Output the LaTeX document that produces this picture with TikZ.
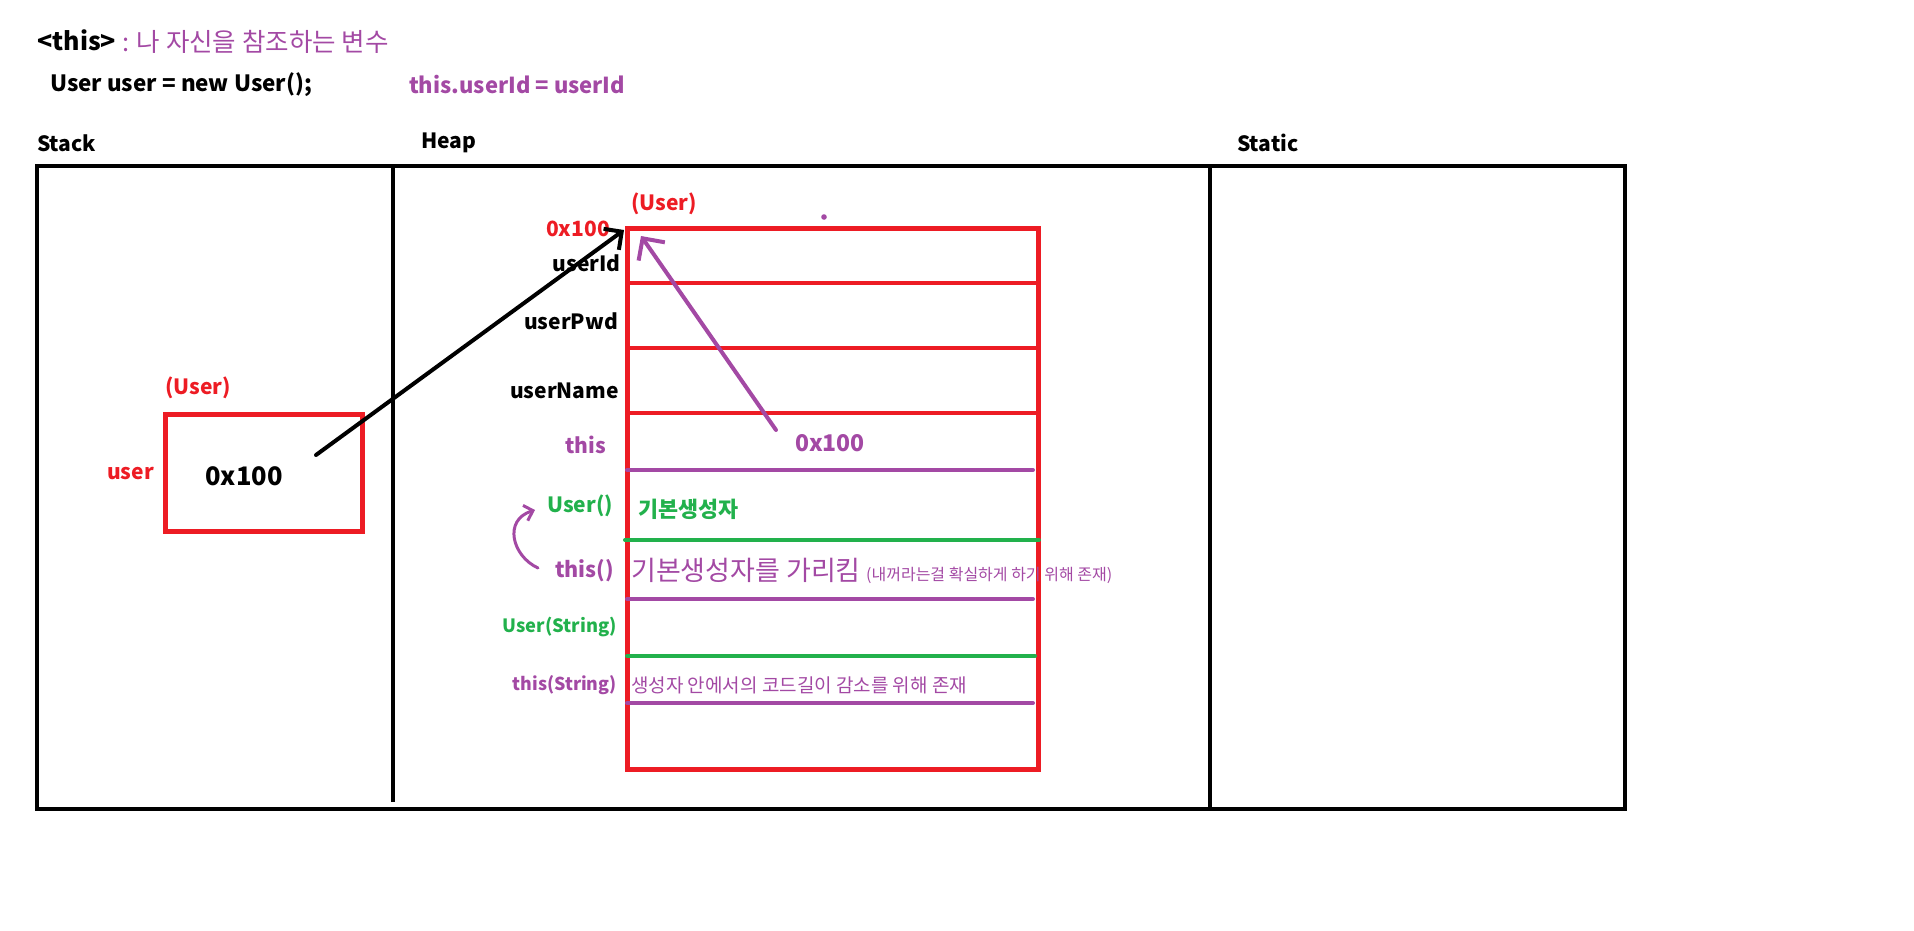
\documentclass[tikz,border=0pt]{standalone}
\usepackage{fontspec}
\setmainfont{Noto Sans CJK KR}
\usetikzlibrary{arrows.meta}
\definecolor{pred}{HTML}{ED1C24}
\definecolor{ppur}{HTML}{A349A4}
\definecolor{pgrn}{HTML}{22B14C}
\begin{document}
\begin{tikzpicture}[x=1pt,y=-1pt,
  txt/.style={inner sep=0pt, font=\fontsize{#1}{#1}\selectfont\bfseries},
  txt/.default=22,
  rtxt/.style={inner sep=0pt, font=\fontsize{#1}{#1}\selectfont},
  rtxt/.default=19,
  frame/.style={line width=4pt},
  redline/.style={draw=pred, line width=4.5pt},
  purline/.style={draw=ppur, line width=4pt, line cap=round},
  grnline/.style={draw=pgrn, line width=4pt, line cap=round},
  barb/.style={-{Straight Barb[length=#1pt,width=2*#1pt]}, line cap=round, line join=round}
]
\useasboundingbox (0,0) rectangle (1914,930);
% headings
\node[txt=25, anchor=west] (title) at (37,40) {<this>};
\node[rtxt=25.5, anchor=west, text=ppur] (titledesc) at (122,42) {: 나 자신을 참조하는 변수};
\node[txt=22.4, anchor=west] (code1) at (50,85) {User user = new User();};
\node[txt=22, anchor=west, text=ppur] (code2) at (409,85) {this.userId = userId};
\node[txt=21, anchor=west] (stacklbl) at (37,143) {Stack};
\node[txt=21, anchor=west] (heaplbl) at (421,143) {Heap};
\node[txt=21, anchor=west] (staticlbl) at (1237,143) {Static};
% frame
\draw[frame] (37,166) rectangle (1625,809);
\coordinate (d1t) at (393,166);
\coordinate (d1b) at (393,802);
\coordinate (d2t) at (1210,166);
\coordinate (d2b) at (1210,809);
\draw[frame] (d1t) -- (d1b);
\draw[frame] (d2t) -- (d2b);
% stack variable
\node[draw=pred, line width=4.5pt, minimum width=197pt, minimum height=117pt, anchor=north west, inner sep=0pt] (sbox) at (163,412) {};
\node[txt=21, anchor=west, text=pred] (stype) at (165,388) {(User)};
\node[txt=21, anchor=west, text=pred] (svar) at (107,474) {user};
\node[txt=25.5, anchor=center] (sval) at (244,476) {0x100};
% heap object
\node[draw=pred, line width=4.5pt, minimum width=411pt, minimum height=541pt, anchor=north west, inner sep=0pt] (obj) at (625,226) {};
\draw[redline] (625,283) -- (1036,283);
\draw[redline] (625,348) -- (1036,348);
\draw[redline] (625,413) -- (1036,413);
\draw[purline] (627,470) -- (1033,470);
\draw[grnline] (625,540) -- (1039,540);
\draw[purline] (627,599) -- (1033,599);
\draw[grnline] (627,656) -- (1035,656);
\draw[purline] (627,703) -- (1033,703);
\fill[ppur] (824,217) circle (2.8);
\node[txt=21, anchor=west, text=pred] (otype) at (631,204) {(User)};
\node[txt=21, anchor=east, text=pred] (oaddr) at (610,229) {0x100};
\node[txt=21, anchor=east] (f1) at (621,263) {userId};
\node[txt=21, anchor=east] (f2) at (618,321) {userPwd};
\node[txt=21, anchor=east] (f3) at (619,391) {userName};
\node[txt=21, anchor=east, text=ppur] (f4) at (606,445) {this};
\node[txt=23, anchor=west, text=ppur] (thisval) at (795,443) {0x100};
\node[txt=21, anchor=east, text=pgrn] (c1) at (613,506) {User()};
\node[txt=21.8, anchor=west, text=pgrn] (c1d) at (638,509) {기본생성자};
\node[txt=21.5, anchor=east, text=ppur] (c2) at (614,571) {this()};
\node[rtxt=27, anchor=west, text=ppur] (c2d) at (631,570) {기본생성자를 가리킴};
\node[rtxt=16, anchor=west, text=ppur] (c2n) at (866,575) {(내꺼라는걸 확실하게 하기 위해 존재)};
\node[txt=18.3, anchor=east, text=pgrn] (c3) at (617,627) {User(String)};
\node[txt=17.8, anchor=east, text=ppur] (c4) at (617,685) {this(String)};
\node[rtxt=19, anchor=west, text=ppur] (c4d) at (631,685) {생성자 안에서의 코드길이 감소를 위해 존재};
% arrows
\coordinate (ptr) at (316,455);
\coordinate (objtip) at (624,230);
\draw[line width=4pt, barb=13] (ptr) -- (objtip);
\coordinate (thisfrom) at (776,430);
\coordinate (thistip) at (641,236);
\draw[ppur, line width=4pt, barb=16] (thisfrom) -- (thistip);
\coordinate (cfrom) at (538,568);
\coordinate (cto) at (535,510);
\draw[ppur, line width=3pt, barb=8] (cfrom) .. controls (512,556) and (503,520) .. (cto);
\end{tikzpicture}
\end{document}
